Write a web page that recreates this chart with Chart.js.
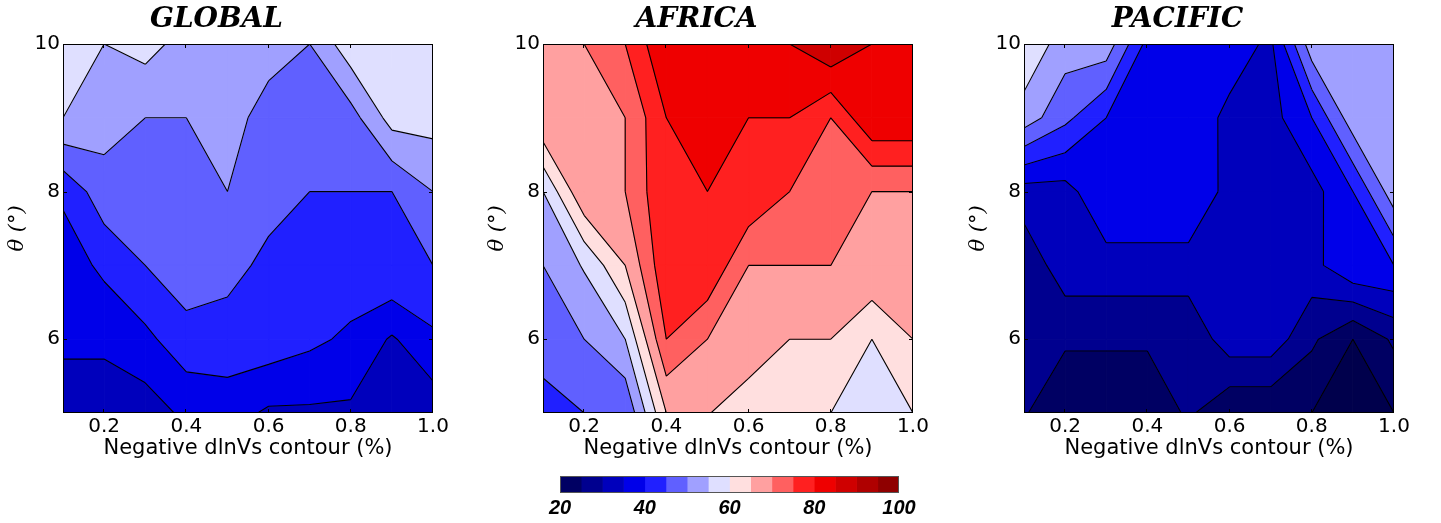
<!DOCTYPE html>
<html>
<head>
<meta charset="utf-8">
<title>dlnVs contours</title>
<script src="https://cdn.jsdelivr.net/npm/chart.js@4.4.1/dist/chart.umd.min.js"></script>
<style>
  body { margin: 0; background: #fff; }
  canvas { position: absolute; }
</style>
</head>
<body>
<canvas id="global" width="474" height="470" style="left:0;top:0"></canvas>
<canvas id="africa" width="474" height="470" style="left:480px;top:0"></canvas>
<canvas id="pacific" width="474" height="470" style="left:961px;top:0"></canvas>
<canvas id="colorbar" width="460" height="53" style="left:500px;top:470px"></canvas>
<script>
// grid of the contour data
const X_VALUES = [0.1, 0.2, 0.3, 0.4, 0.5, 0.6, 0.7, 0.8, 0.9, 1.0];
const Y_VALUES = [5, 6, 7, 8, 9, 10];
const LEVELS = [20, 25, 30, 35, 40, 45, 50, 55, 60, 65, 70, 75, 80, 85, 90, 95, 100];
const BAND_COLORS = ['#000063', '#00008f', '#0000bc', '#0000e9', '#2020ff', '#6060ff', '#a0a0ff', '#dfdfff',
                     '#ffdfdf', '#ffa0a0', '#ff6060', '#ff2020', '#ef0000', '#cf0000', '#af0000', '#8f0000'];
const UNDER_COLOR = '#00004c';
const X_TICKS = [0.2, 0.4, 0.6, 0.8, 1.0];
const Y_TICKS = [6, 8, 10];
const X_TITLE = 'Negative dlnVs contour (%)';
const Y_TITLE = 'θ (°)';

// rows go from theta = 5 (first) to theta = 10 (last)
const GLOBAL_VALUES = [
  [32.3, 33.1, 32.4, 36.1, 37.2, 34.2, 34.2, 34.1, 32, 31.9],
  [36, 35.7, 38.75, 43.1, 43.0, 43.0, 41.1, 39.05, 34.4, 39.05],
  [37, 41.2, 45, 48, 46.5, 43.9, 43, 43, 44.9, 45],
  [41, 48, 47.5, 47.5, 50, 46.7, 45, 45, 45, 50],
  [55, 52, 50, 50, 52, 48, 47.5, 47.9, 57, 57],
  [58, 55, 56.9, 53, 54, 52, 50, 58.3, 59, 59]
];
const AFRICA_VALUES = [
  [43.2, 45, 45.5, 65, 65.2, 62.8, 62, 60, 57, 60],
  [47, 50, 55, 75, 70, 67.5, 65, 65, 60, 65],
  [50, 55.5, 65, 79, 79.5, 70, 70, 70, 69.5, 68],
  [55, 69.5, 70, 79.5, 80, 79.5, 75, 72.5, 70, 70],
  [69.8, 68, 70, 80, 83, 80, 80, 75, 84.5, 84.5],
  [68, 70, 75, 84.6, 83, 83, 85, 89.5, 85, 84.5]
];
const PACIFIC_VALUES = [
  [25.5, 20.8, 20.8, 20.8, 25.9, 20.6, 20.6, 20, 18, 20],
  [26, 25.8, 25.8, 25.8, 25.8, 33, 33, 25.95, 20, 25.9],
  [26.3, 33, 33, 33, 33, 33, 33, 33.1, 39.8, 40],
  [32.8, 33, 39.5, 39.5, 39.5, 33.25, 33, 33, 40, 53],
  [52.8, 46.3, 40, 38, 38, 33.8, 33, 40, 53, 54],
  [59, 52.5, 53, 38.5, 38, 37.5, 34, 53, 54, 54]
];

Chart.defaults.color = '#000';

// keep the part of a polygon above (or below) a level, values linear along edges
function clipPoly(poly, level, above) {
  const out = [];
  for (let i = 0; i < poly.length; i++) {
    const a = poly[i], b = poly[(i + 1) % poly.length];
    const ina = above ? a.v >= level : a.v <= level;
    const inb = above ? b.v >= level : b.v <= level;
    if (ina) out.push(a);
    if (ina !== inb) {
      const t = (level - a.v) / (b.v - a.v);
      out.push({ x: a.x + t * (b.x - a.x), y: a.y + t * (b.y - a.y), v: level });
    }
  }
  return out;
}

function cellQuads(values) {
  const quads = [];
  for (let j = 0; j < Y_VALUES.length - 1; j++) {
    for (let i = 0; i < X_VALUES.length - 1; i++) {
      quads.push([
        { x: X_VALUES[i], y: Y_VALUES[j], v: values[j][i] },
        { x: X_VALUES[i + 1], y: Y_VALUES[j], v: values[j][i + 1] },
        { x: X_VALUES[i + 1], y: Y_VALUES[j + 1], v: values[j + 1][i + 1] },
        { x: X_VALUES[i], y: Y_VALUES[j + 1], v: values[j + 1][i] }
      ]);
    }
  }
  return quads;
}

const contourPlugin = {
  id: 'contour',
  beforeDatasetsDraw(chart, args, opts) {
    const { ctx, chartArea, scales: { x, y } } = chart;
    const quads = cellQuads(opts.values);
    const bands = [{ lo: -Infinity, hi: LEVELS[0], color: UNDER_COLOR }];
    for (let k = 0; k < BAND_COLORS.length; k++) {
      bands.push({ lo: LEVELS[k], hi: LEVELS[k + 1], color: BAND_COLORS[k] });
    }
    ctx.save();
    ctx.beginPath();
    ctx.rect(chartArea.left, chartArea.top, chartArea.width, chartArea.height);
    ctx.clip();
    ctx.lineJoin = 'round';

    bands.forEach(band => {
      ctx.fillStyle = band.color;
      ctx.strokeStyle = band.color;
      ctx.lineWidth = 1;
      quads.forEach(q => {
        const poly = clipPoly(clipPoly(q, band.lo, true), band.hi, false);
        if (poly.length < 3) return;
        ctx.beginPath();
        poly.forEach((p, n) => {
          const px = x.getPixelForValue(p.x), py = y.getPixelForValue(p.y);
          if (n === 0) ctx.moveTo(px, py); else ctx.lineTo(px, py);
        });
        ctx.closePath();
        ctx.fill();
        ctx.stroke();
      });
    });

    // contour lines
    const seen = new Set();
    ctx.beginPath();
    LEVELS.forEach(level => {
      quads.forEach(q => {
        const poly = clipPoly(q, level, true);
        for (let n = 0; n < poly.length; n++) {
          const a = poly[n], b = poly[(n + 1) % poly.length];
          if (Math.abs(a.v - level) > 1e-9 || Math.abs(b.v - level) > 1e-9) continue;
          const ax = x.getPixelForValue(a.x), ay = y.getPixelForValue(a.y);
          const bx = x.getPixelForValue(b.x), by = y.getPixelForValue(b.y);
          if (Math.hypot(bx - ax, by - ay) < 0.01) continue;
          const k1 = ax.toFixed(1) + ',' + ay.toFixed(1), k2 = bx.toFixed(1) + ',' + by.toFixed(1);
          const key = k1 < k2 ? k1 + '|' + k2 : k2 + '|' + k1;
          if (seen.has(key)) continue;
          seen.add(key);
          ctx.moveTo(ax, ay);
          ctx.lineTo(bx, by);
        }
      });
    });
    ctx.strokeStyle = '#000';
    ctx.lineWidth = 1.1;
    ctx.stroke();
    ctx.restore();
  },
  afterDraw(chart) {
    const { ctx, chartArea: { left, right, top, bottom }, scales: { x, y } } = chart;
    ctx.save();
    ctx.strokeStyle = '#000';
    ctx.lineWidth = 1;
    ctx.strokeRect(left + 0.5, top + 0.5, right - left - 1, bottom - top - 1);
    ctx.beginPath();
    X_TICKS.forEach(v => {
      const px = Math.round(x.getPixelForValue(v)) - 0.5;
      ctx.moveTo(px, bottom); ctx.lineTo(px, bottom - 4);
      ctx.moveTo(px, top); ctx.lineTo(px, top + 4);
    });
    Y_TICKS.forEach(v => {
      const py = Math.round(y.getPixelForValue(v)) + 0.5;
      ctx.moveTo(left, py); ctx.lineTo(left + 4, py);
      ctx.moveTo(right, py); ctx.lineTo(right - 4, py);
    });
    ctx.stroke();
    ctx.restore();
  }
};

function makePanel(id, title, values) {
  return new Chart(document.getElementById(id), {
    type: 'scatter',
    data: { datasets: [] },
    options: {
      responsive: false,
      animation: false,
      layout: { padding: { left: 0, right: 41, top: 0, bottom: 0 } },
      plugins: {
        legend: { display: false },
        tooltip: { enabled: false },
        title: {
          display: true,
          text: title,
          color: '#000',
          font: { family: 'DejaVu Serif', size: 28, style: 'italic', weight: 'bold' },
          padding: { top: 3, bottom: 7.4 }
        },
        contour: { values: values }
      },
      scales: {
        x: {
          type: 'linear',
          min: 0.1,
          max: 1.0,
          grid: { display: false, drawTicks: false },
          border: { display: false },
          afterBuildTicks: s => { s.ticks = X_TICKS.map(v => ({ value: v })); },
          afterFit: s => { s.height = 57; },
          ticks: {
            padding: 2,
            maxRotation: 0,
            autoSkip: false,
            font: { family: 'DejaVu Sans', size: 20 },
            callback: v => v.toFixed(1)
          },
          title: {
            display: true,
            text: X_TITLE,
            font: { family: 'DejaVu Sans', size: 21 },
            padding: { top: 0, bottom: 9 }
          }
        },
        y: {
          type: 'linear',
          min: 5,
          max: 10,
          grid: { display: false, drawTicks: false },
          border: { display: false },
          afterBuildTicks: s => { s.ticks = Y_TICKS.map(v => ({ value: v })); },
          afterFit: s => { s.width = 63; },
          ticks: {
            padding: 3,
            autoSkip: false,
            font: { family: 'DejaVu Sans', size: 20 },
            callback: v => String(v)
          },
          title: {
            display: true,
            text: Y_TITLE,
            font: { family: 'DejaVu Serif', size: 21, style: 'italic' },
            padding: { top: 5, bottom: 0 }
          }
        }
      }
    },
    plugins: [contourPlugin]
  });
}

makePanel('global', 'GLOBAL', GLOBAL_VALUES);
makePanel('africa', 'AFRICA', AFRICA_VALUES);
makePanel('pacific', 'PACIFIC', PACIFIC_VALUES);

// colour bar
const outlinePlugin = {
  id: 'outline',
  afterDatasetsDraw(chart) {
    const { ctx, chartArea: { left, right, top, bottom } } = chart;
    ctx.save();
    ctx.strokeStyle = '#555';
    ctx.lineWidth = 1;
    ctx.strokeRect(left + 0.5, top + 0.5, right - left - 1, bottom - top - 1);
    ctx.restore();
  }
};

new Chart(document.getElementById('colorbar'), {
  type: 'bar',
  data: {
    labels: [''],
    datasets: BAND_COLORS.map((c, i) => ({
      data: [[LEVELS[i], LEVELS[i + 1]]],
      backgroundColor: c,
      borderWidth: 0,
      grouped: false,
      barPercentage: 1,
      categoryPercentage: 1
    }))
  },
  options: {
    indexAxis: 'y',
    responsive: false,
    animation: false,
    layout: { padding: { left: 60, right: 61, top: 6, bottom: 0 } },
    plugins: { legend: { display: false }, tooltip: { enabled: false } },
    scales: {
      x: {
        type: 'linear',
        min: 20,
        max: 100,
        grid: { display: false, drawTicks: false },
        border: { display: false },
        afterFit: s => { s.height = 30; },
        ticks: {
          stepSize: 20,
          padding: 3,
          maxRotation: 0,
          font: { family: 'Liberation Sans', size: 20, style: 'italic', weight: 'bold' }
        }
      },
      y: { display: false }
    }
  },
  plugins: [outlinePlugin]
});
</script>
</body>
</html>
